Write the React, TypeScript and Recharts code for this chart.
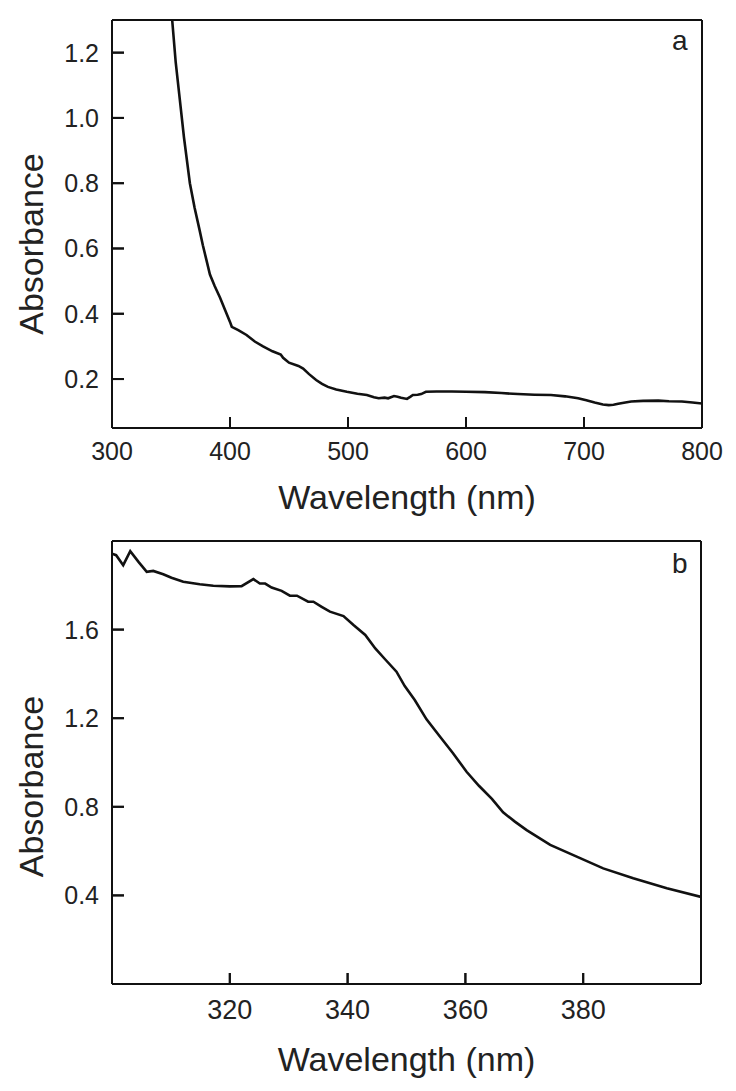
import { ComposedChart, Label, Line, ReferenceLine, Scatter, XAxis, YAxis } from "recharts";

// panel a: 300-800 nm
const nmA = [
  349, 351, 354, 357.5, 361, 366, 370, 374, 377, 380, 383, 387, 391.5, 396, 400, 401.5, 407, 414, 421, 428,
  436, 443, 445, 450, 458, 462, 467, 473, 478, 483, 490, 499, 508, 516, 522, 526, 531, 534, 539, 542, 545,
  550, 553, 555, 559, 562, 566, 575, 588, 600, 616, 630, 644, 658, 672, 684, 695, 702, 709, 716, 721, 725,
  729, 735, 740, 750, 763, 772, 783, 792, 800,
];
const absA = [
  1.4, 1.3, 1.17, 1.055, 0.94, 0.8, 0.725, 0.66, 0.61, 0.565, 0.52, 0.485, 0.45, 0.41, 0.375, 0.36, 0.35, 0.335,
  0.315, 0.3, 0.285, 0.275, 0.265, 0.25, 0.24, 0.232, 0.215, 0.197, 0.185, 0.176, 0.168, 0.161, 0.155, 0.151,
  0.144, 0.141, 0.143, 0.141, 0.148, 0.146, 0.143, 0.139, 0.146, 0.151, 0.152, 0.154, 0.161, 0.162, 0.162,
  0.161, 0.16, 0.157, 0.154, 0.152, 0.151, 0.147, 0.141, 0.135, 0.128, 0.122, 0.12, 0.121, 0.124, 0.128,
  0.131, 0.133, 0.134, 0.132, 0.131, 0.128, 0.125,
];
const xTicksA = [300, 400, 500, 600, 700, 800];
const yTicksA = [0.2, 0.4, 0.6, 0.8, 1.0, 1.2];

// panel b: 300-400 nm
const nmB = [
  300, 300.7, 301.9, 303.1, 304.5, 305.9, 307, 308.7, 310.1, 312.1, 314.9, 317.2, 320, 322, 324, 325.1, 326,
  327.1, 328.8, 330.2, 331.4, 333.3, 334.2, 335.6, 337, 339.3, 341, 343, 344.7, 346.4, 348.3, 349.7, 351.4,
  353.4, 355.7, 357.9, 360.2, 362.3, 364.5, 366.4, 368.4, 370.4, 374.4, 378.9, 383.4, 388.5, 394.2, 400,
];
const absB = [
  1.943, 1.936, 1.891, 1.954, 1.906, 1.861, 1.865, 1.85, 1.834, 1.816, 1.805, 1.798, 1.795, 1.796, 1.828,
  1.808, 1.808, 1.79, 1.775, 1.753, 1.753, 1.726, 1.726, 1.703, 1.681, 1.661, 1.621, 1.576, 1.515, 1.465,
  1.41, 1.345, 1.282, 1.195, 1.116, 1.042, 0.958, 0.895, 0.836, 0.775, 0.733, 0.695, 0.628, 0.575, 0.522,
  0.477, 0.432, 0.393,
];
const xTicksB = [320, 340, 360, 380];
const yTicksB = [0.4, 0.8, 1.2, 1.6];

const dataA = nmA.map((nm, i) => ({ nm, abs: absA[i] }));
const dataB = nmB.map((nm, i) => ({ nm, abs: absB[i] }));

const INK = "#111";
const TEXT = "#222";
const FONT = "'Liberation Sans', Arial, sans-serif";
const NARROW = "'Liberation Sans Narrow', 'Arial Narrow', " + FONT;

// tick labels only; inward tick marks are drawn separately
function LeftTick(props: any) {
  const { x, y, payload } = props;
  return (
    <text x={x - 13} y={y} dy="0.36em" textAnchor="end" fill={TEXT} fontSize={25} fontFamily={FONT}>
      {Number(payload.value).toFixed(1)}
    </text>
  );
}

function makeBottomTick(fontSize: number, family: string, gap: number) {
  return function BottomTick(props: any) {
    const { x, y, payload } = props;
    return (
      <text x={x} y={y + gap} textAnchor="middle" fill={TEXT} fontSize={fontSize} fontFamily={family}>
        {payload.value}
      </text>
    );
  };
}

const tickA = makeBottomTick(25, FONT, 32);
const tickB = makeBottomTick(27, NARROW, 35);

const HMark = (p: any) => <path d={`M${p.cx},${p.cy}h12`} stroke={INK} strokeWidth={2} fill="none" />;
const VMark = (p: any) => <path d={`M${p.cx},${p.cy}v-11`} stroke={INK} strokeWidth={2} fill="none" />;

// reference-line shapes: short stubs from the left / bottom edge
const HStub = (p: any) => {
  if (![p.x1, p.x2, p.y1].every(Number.isFinite)) return <g />;
  return <path d={`M${Math.min(p.x1, p.x2)},${p.y1}h12`} stroke={INK} strokeWidth={2} fill="none" />;
};
const VStub = (p: any) => {
  if (![p.x1, p.y1, p.y2].every(Number.isFinite)) return <g />;
  return <path d={`M${p.x1},${Math.max(p.y1, p.y2)}v-11`} stroke={INK} strokeWidth={2} fill="none" />;
};

function Panel({
  data,
  xDomain,
  yDomain,
  xTicks,
  yTicks,
  height,
  margin,
  xTick,
  titleOffset,
  yLabelDy,
  letter,
  letterTop,
}: {
  data: { nm: number; abs: number }[];
  xDomain: [number, number];
  yDomain: [number, number];
  xTicks: number[];
  yTicks: number[];
  height: number;
  margin: { top: number; right: number; bottom: number; left: number };
  xTick: (p: any) => any;
  titleOffset: number;
  yLabelDy: number;
  letter: string;
  letterTop: number;
}) {
  const yMarks = yTicks.map((v) => ({ nm: xDomain[0], abs: v }));
  const xMarks = xTicks.map((v) => ({ nm: v, abs: yDomain[0] }));
  const innerX = xTicks.filter((v) => v > xDomain[0] && v < xDomain[1]);
  return (
    <div style={{ position: "relative", width: 736, height }}>
      <ComposedChart width={736} height={height} data={data} margin={margin}>
        <XAxis
          type="number"
          dataKey="nm"
          domain={xDomain}
          ticks={xTicks}
          allowDataOverflow
          tickSize={0}
          tickMargin={0}
          tickLine={false}
          stroke={INK}
          strokeWidth={2}
          tick={xTick}
        >
          <Label
            value="Wavelength (nm)"
            position="bottom"
            offset={titleOffset}
            style={{ fill: TEXT, fontSize: 34, fontFamily: FONT }}
          />
        </XAxis>
        <XAxis
          xAxisId="top"
          orientation="top"
          type="number"
          dataKey="nm"
          domain={xDomain}
          allowDataOverflow
          height={1}
          tick={false}
          tickLine={false}
          stroke={INK}
          strokeWidth={2}
        />
        <YAxis
          type="number"
          domain={yDomain}
          ticks={yTicks}
          allowDataOverflow
          width={60}
          tickSize={0}
          tickMargin={0}
          tickLine={false}
          stroke={INK}
          strokeWidth={2}
          tick={LeftTick}
        >
          <Label
            value="Absorbance"
            angle={-90}
            position="center"
            dx={-51}
            dy={yLabelDy}
            style={{ fill: TEXT, fontSize: 34, fontFamily: FONT, textAnchor: "middle" }}
          />
        </YAxis>
        <YAxis
          yAxisId="right"
          orientation="right"
          type="number"
          domain={yDomain}
          allowDataOverflow
          width={1}
          tick={false}
          tickLine={false}
          stroke={INK}
          strokeWidth={2}
        />
        {yTicks.map((v) => (
          <ReferenceLine key={`h${v}`} y={v} shape={HStub} />
        ))}
        {innerX.map((v) => (
          <ReferenceLine key={`v${v}`} x={v} shape={VStub} />
        ))}
        <Scatter data={yMarks} dataKey="abs" shape={HMark} isAnimationActive={false} />
        <Scatter data={xMarks} dataKey="abs" shape={VMark} isAnimationActive={false} />
        <Line
          type="linear"
          dataKey="abs"
          stroke={INK}
          strokeWidth={2.6}
          dot={false}
          isAnimationActive={false}
        />
      </ComposedChart>
      <div
        style={{
          position: "absolute",
          left: 672,
          top: letterTop,
          fontFamily: FONT,
          fontSize: 28,
          lineHeight: 1,
          color: TEXT,
        }}
      >
        {letter}
      </div>
    </div>
  );
}

export default function App() {
  return (
    <div style={{ position: "absolute", left: 0, top: 0, width: 736, height: 1091, background: "#fff" }}>
      <Panel
        data={dataA}
        xDomain={[300, 800]}
        yDomain={[0.05, 1.3]}
        xTicks={xTicksA}
        yTicks={yTicksA}
        height={520}
        margin={{ top: 19, right: 33, bottom: 62, left: 52 }}
        xTick={tickA}
        titleOffset={27}
        yLabelDy={20}
        letter="a"
        letterTop={27}
      />
      <Panel
        data={dataB}
        xDomain={[300, 400]}
        yDomain={[0, 2.0]}
        xTicks={xTicksB}
        yTicks={yTicksB}
        height={571}
        margin={{ top: 20, right: 34, bottom: 77, left: 52 }}
        xTick={tickB}
        titleOffset={33}
        yLabelDy={24}
        letter="b"
        letterTop={30}
      />
    </div>
  );
}
